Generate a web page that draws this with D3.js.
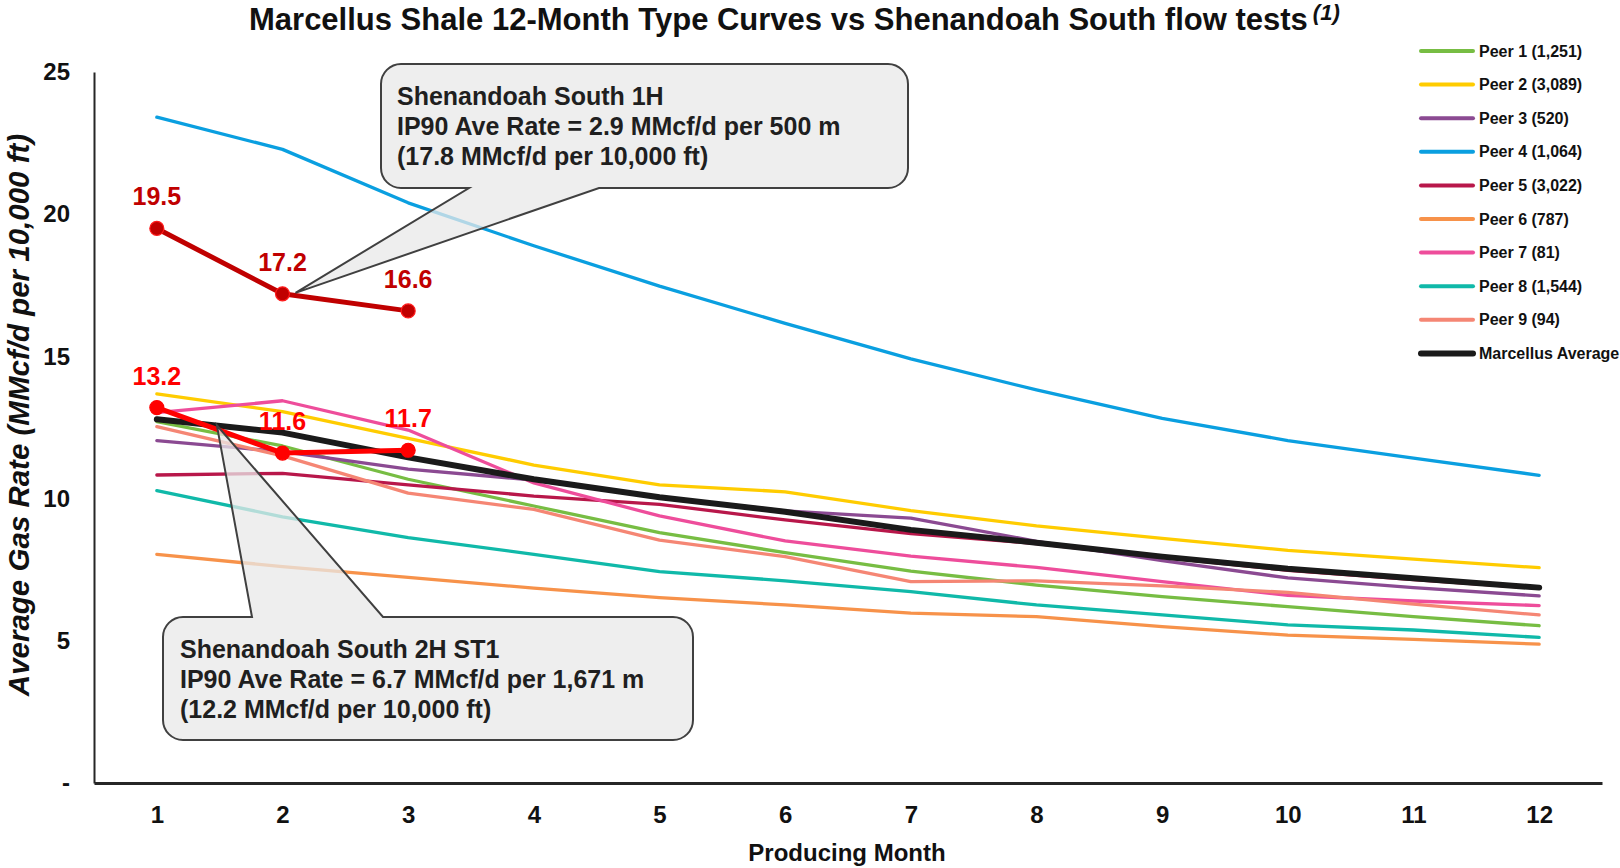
<!DOCTYPE html>
<html>
<head>
<meta charset="utf-8">
<script src="https://cdn.jsdelivr.net/npm/d3@7"></script>
<style>
  html, body { margin: 0; padding: 0; background: #ffffff; }
  svg { display: block; font-family: "Liberation Sans", Arial, sans-serif; }
</style>
</head>
<body>
<svg id="chart" width="1620" height="868"></svg>
<script>
// ---------------- DATA ----------------
const months = [1, 2, 3, 4, 5, 6, 7, 8, 9, 10, 11, 12];
const yTicks = [0, 5, 10, 15, 20, 25];

const peerNames = ["Peer 1 (1,251)", "Peer 2 (3,089)", "Peer 3 (520)", "Peer 4 (1,064)", "Peer 5 (3,022)",
                   "Peer 6 (787)", "Peer 7 (81)", "Peer 8 (1,544)", "Peer 9 (94)"];
const avgName = "Marcellus Average";

const peer1 = [12.71, 11.85, 10.68, 9.74, 8.80, 8.10, 7.45, 6.96, 6.55, 6.20, 5.85, 5.53];
const peer2 = [13.68, 13.06, 12.12, 11.18, 10.48, 10.24, 9.58, 9.04, 8.60, 8.18, 7.87, 7.57];
const peer3 = [12.04, 11.65, 11.04, 10.65, 10.05, 9.57, 9.31, 8.50, 7.82, 7.21, 6.87, 6.58];
const peer4 = [23.41, 22.28, 20.40, 18.89, 17.47, 16.16, 14.91, 13.82, 12.82, 12.04, 11.42, 10.82];
const peer5 = [10.83, 10.89, 10.48, 10.09, 9.80, 9.25, 8.77, 8.42, 7.93, 7.48, 7.15, 6.85];
const peer6 = [8.04, 7.61, 7.23, 6.85, 6.52, 6.26, 5.97, 5.85, 5.50, 5.20, 5.05, 4.88];
const peer7 = [13.02, 13.44, 12.41, 10.55, 9.39, 8.51, 7.98, 7.58, 7.08, 6.60, 6.40, 6.24];
const peer8 = [10.28, 9.36, 8.63, 8.04, 7.43, 7.11, 6.73, 6.26, 5.91, 5.56, 5.38, 5.12];
const peer9 = [12.53, 11.50, 10.19, 9.62, 8.54, 7.96, 7.08, 7.11, 6.93, 6.70, 6.29, 5.91];
const marcellusAvg = [12.79, 12.32, 11.45, 10.68, 10.05, 9.54, 8.90, 8.45, 7.96, 7.53, 7.20, 6.87];

const well1HMonths = [1, 2, 3];
const well1H = [19.5, 17.2, 16.6];
const well2HMonths = [1, 2, 3];
const well2H = [13.2, 11.6, 11.7];

const peerColors = ["#77bd43", "#ffcc00", "#8b4a92", "#0a9fe0", "#b8174a", "#f7924a", "#ee4d9b", "#10b9a9", "#f58674"];
const avgColor = "#1a1a1a";
const color1H = "#c00000";
const color2H = "#ff0000";

const callout1Lines = ["Shenandoah South 1H", "IP90 Ave Rate = 2.9 MMcf/d per 500 m", "(17.8 MMcf/d per 10,000 ft)"];
const callout2Lines = ["Shenandoah South 2H ST1", "IP90 Ave Rate = 6.7 MMcf/d per 1,671 m", "(12.2 MMcf/d per 10,000 ft)"];

// ---------------- CHART ----------------
const svg = d3.select("#chart");
const peers = [peer1, peer2, peer3, peer4, peer5, peer6, peer7, peer8, peer9];

const x = d3.scalePoint().domain(months).range([94, 1602]).padding(0.5);
const y = d3.scaleLinear().domain([0, 25]).range([783, 72]);

// Title
const title = svg.append("text")
  .attr("x", 249).attr("y", 30)
  .attr("font-size", 31).attr("font-weight", "bold").attr("fill", "#111");
title.append("tspan").text("Marcellus Shale 12-Month Type Curves vs Shenandoah South flow tests");
title.append("tspan").attr("dx", 5).attr("dy", -10).attr("font-size", 22).attr("font-style", "italic").text("(1)");

// Axes
const yAxis = svg.append("g").attr("transform", "translate(94,0)")
  .call(d3.axisLeft(y).tickValues(yTicks).tickSize(0).tickPadding(24)
        .tickFormat(d => d === 0 ? "-" : d3.format("d")(d)));
yAxis.select(".domain").attr("stroke", "#262626").attr("stroke-width", 2);
yAxis.selectAll("text").attr("font-size", 24).attr("font-weight", "bold").attr("fill", "#111")
  .attr("font-family", "Liberation Sans, Arial, sans-serif");

const xAxis = svg.append("g").attr("transform", "translate(0,783)")
  .call(d3.axisBottom(x).tickSize(0).tickPadding(23));
xAxis.select(".domain").attr("stroke", "#262626").attr("stroke-width", 3);
xAxis.selectAll("text").attr("font-size", 24).attr("font-weight", "bold").attr("fill", "#111")
  .attr("font-family", "Liberation Sans, Arial, sans-serif");

svg.append("text").attr("x", 847).attr("y", 861).attr("text-anchor", "middle")
  .attr("font-size", 24).attr("font-weight", "bold").attr("fill", "#111").text("Producing Month");

svg.append("text").attr("transform", "translate(29,415) rotate(-90)").attr("text-anchor", "middle")
  .attr("font-size", 29.5).attr("font-weight", "bold").attr("font-style", "italic").attr("fill", "#111")
  .text("Average Gas Rate (MMcf/d per 10,000 ft)");

// Lines
const line = d3.line().x((d, i) => x(months[i])).y(d => y(d));
peers.forEach((vals, i) => {
  svg.append("path").datum(vals).attr("d", line)
    .attr("fill", "none").attr("stroke", peerColors[i]).attr("stroke-width", 3.3)
    .attr("stroke-linejoin", "round").attr("stroke-linecap", "round");
});
svg.append("path").datum(marcellusAvg).attr("d", line)
  .attr("fill", "none").attr("stroke", avgColor).attr("stroke-width", 6)
  .attr("stroke-linejoin", "round").attr("stroke-linecap", "round");

function drawWell(ms, vals, col, strokeCol) {
  const l = d3.line().x((d, i) => x(ms[i])).y(d => y(d));
  svg.append("path").datum(vals).attr("d", l).attr("fill", "none")
    .attr("stroke", col).attr("stroke-width", 5).attr("stroke-linejoin", "round");
  svg.selectAll(null).data(vals).enter().append("circle")
    .attr("cx", (d, i) => x(ms[i])).attr("cy", d => y(d)).attr("r", 7)
    .attr("fill", col).attr("stroke", strokeCol).attr("stroke-width", 1.2);
  svg.selectAll(null).data(vals).enter().append("text")
    .attr("x", (d, i) => x(ms[i])).attr("y", d => y(d) - 23)
    .attr("text-anchor", "middle").attr("font-size", 25).attr("font-weight", "bold")
    .attr("fill", col).text(d => d3.format(".1f")(d));
}
drawWell(well2HMonths, well2H, color2H, "#ff0000");
drawWell(well1HMonths, well1H, color1H, "#ff1a1a");

// Callouts
function calloutBottom(x0, y0, x1, y1, r, b1, b2, tx, ty) {
  return `M${x0 + r},${y0} H${x1 - r} A${r},${r} 0 0 1 ${x1},${y0 + r} V${y1 - r} A${r},${r} 0 0 1 ${x1 - r},${y1}`
    + ` H${b2} L${tx},${ty} L${b1},${y1} H${x0 + r} A${r},${r} 0 0 1 ${x0},${y1 - r} V${y0 + r} A${r},${r} 0 0 1 ${x0 + r},${y0} Z`;
}
function calloutTop(x0, y0, x1, y1, r, b1, b2, tx, ty) {
  return `M${x0 + r},${y0} H${b1} L${tx},${ty} L${b2},${y0} H${x1 - r} A${r},${r} 0 0 1 ${x1},${y0 + r} V${y1 - r} A${r},${r} 0 0 1 ${x1 - r},${y1}`
    + ` H${x0 + r} A${r},${r} 0 0 1 ${x0},${y1 - r} V${y0 + r} A${r},${r} 0 0 1 ${x0 + r},${y0} Z`;
}
const tip1x = x(well1HMonths[1]) + 13, tip1y = y(well1H[1]) - 1;
svg.append("path").attr("d", calloutBottom(381, 64, 908, 188, 20, 469, 599, tip1x, tip1y))
  .attr("fill", "#e8e8e8").attr("fill-opacity", 0.75).attr("stroke", "#404040").attr("stroke-width", 2);
const tip2x = x(months[0]) + 60, tip2y = y(marcellusAvg[0]) + 6;
svg.append("path").attr("d", calloutTop(163, 617, 693, 740, 20, 252, 383, tip2x, tip2y))
  .attr("fill", "#e8e8e8").attr("fill-opacity", 0.75).attr("stroke", "#404040").attr("stroke-width", 2);

function calloutText(lines, x0, y0) {
  svg.selectAll(null).data(lines).enter().append("text")
    .attr("x", x0).attr("y", (d, i) => y0 + i * 30)
    .attr("font-size", 25).attr("font-weight", "bold").attr("fill", "#1f1f1f").text(d => d);
}
calloutText(callout1Lines, 397, 105);
calloutText(callout2Lines, 180, 658);

// Legend
const legendNames = peerNames.concat([avgName]);
const legendColors = peerColors.concat([avgColor]);
const lg = svg.append("g");
legendNames.forEach((n, i) => {
  const ly = 51 + i * 33.6;
  lg.append("line").attr("x1", 1421).attr("x2", 1473).attr("y1", ly).attr("y2", ly)
    .attr("stroke", legendColors[i]).attr("stroke-width", i === 9 ? 6 : 4).attr("stroke-linecap", "round");
  lg.append("text").attr("x", 1479).attr("y", ly).attr("dy", "0.35em")
    .attr("font-size", 16).attr("font-weight", "bold").attr("fill", "#111").text(n);
});
</script>
</body>
</html>
